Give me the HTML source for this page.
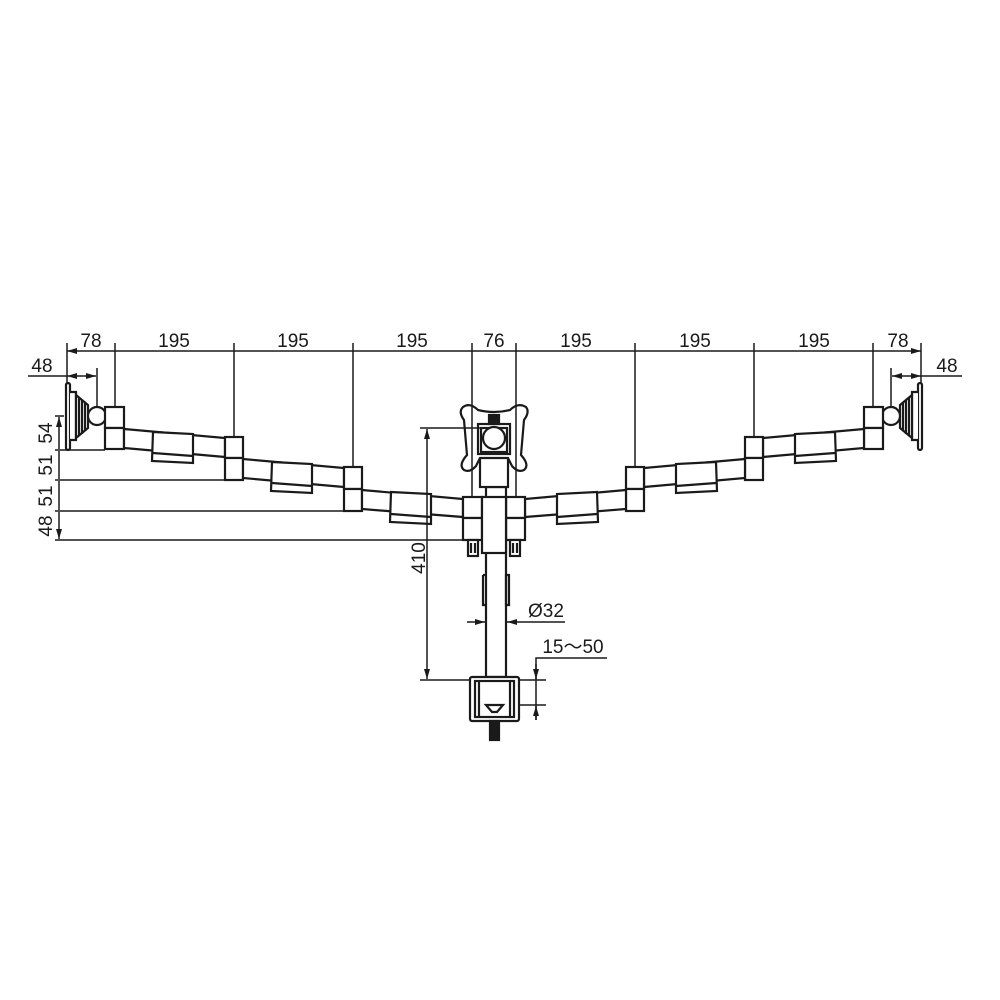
<!DOCTYPE html>
<html><head><meta charset="utf-8"><style>
html,body{margin:0;padding:0;background:#fff}
svg{display:block}
text{font-family:"Liberation Sans",sans-serif;font-size:19px;fill:#1a1a1a}
</style></head><body>
<svg width="1000" height="1000" viewBox="0 0 1000 1000" xmlns="http://www.w3.org/2000/svg">
<defs>
<marker id="a" viewBox="0 0 10 6" refX="10" refY="3" markerWidth="7" markerHeight="4" orient="auto-start-reverse"><path d="M0,0 L10,3 L0,6 z" fill="#1a1a1a"/></marker>
<g id="arm" fill="#fff" stroke="#1a1a1a" stroke-width="2.2">
  <rect x="66" y="383" width="4" height="67" rx="2"/>
  <path d="M70,392 L76,392 L76,440 L70,440" />
  <path d="M76,395 L88,405 L88,428 L76,438 Z" fill="#fff"/>
  <line x1="79" y1="398" x2="79" y2="436"/><line x1="82" y1="400" x2="82" y2="434"/><line x1="85" y1="402" x2="85" y2="431"/>
  <circle cx="97" cy="416" r="9"/>
  <rect x="105" y="407" width="19" height="21"/>
  <rect x="105" y="428" width="19" height="21"/>
  <path d="M124,429 L225,438 L225,457 L124,448 Z"/>
  <path d="M153,432 L193,434 L193,463 L152,461 Z"/>
  <line x1="153" y1="453" x2="193" y2="456"/>
  <rect x="225" y="437" width="18" height="21"/>
  <rect x="225" y="458" width="18" height="22"/>
  <path d="M243,459 L344,468 L344,487 L243,478 Z"/>
  <path d="M272,462 L312,464 L312,493 L271,491 Z"/>
  <line x1="272" y1="483" x2="312" y2="486"/>
  <rect x="344" y="467" width="18" height="22"/>
  <rect x="344" y="489" width="18" height="22"/>
  <path d="M362,490 L463,499 L463,517 L362,509 Z"/>
  <path d="M391,492 L431,494 L431,524 L390,522 Z"/>
  <line x1="391" y1="514" x2="431" y2="517"/>
  <rect x="463" y="497" width="19" height="21"/>
  <rect x="463" y="518" width="19" height="22"/>
  <rect x="468" y="540" width="10" height="16"/>
  <line x1="471" y1="543" x2="471" y2="553"/><line x1="475" y1="543" x2="475" y2="553"/>
</g>
</defs>
<use href="#arm"/>
<use href="#arm" transform="translate(988,0) scale(-1,1)"/>
<g fill="#fff" stroke="#1a1a1a" stroke-width="2.2">
  <rect x="486" y="487" width="20" height="190"/>
  <rect x="480" y="450" width="28" height="37"/>
  <rect x="482" y="497" width="24" height="56"/>
  <path d="M483,575 L486,575 M483,575 L483,605 L486,605 M509,575 L506,575 L506,605 L509,605 Z" fill="none"/>
  <path d="M463,407 Q470,402 478,410 Q494,414 510,410 Q518,402 526,407 Q530,412 524,420 L521,455 Q530,465 524,470 Q518,473 512,466 L508,458 L480,458 L476,466 Q470,473 464,470 Q458,465 467,455 L464,420 Q458,412 463,407 Z"/>
  <rect x="478" y="424" width="32" height="30"/>
  <rect x="481" y="428" width="26" height="24"/>
  <circle cx="494" cy="438" r="11"/>
  <rect x="489" y="415" width="10" height="9" fill="#1a1a1a"/>
  <rect x="470" y="677" width="49" height="44" rx="2"/>
  <rect x="475" y="681" width="39" height="36" fill="none"/>
  <line x1="479" y1="681" x2="479" y2="717"/><line x1="510" y1="681" x2="510" y2="717"/>
  <path d="M486,705 L503,705 L497,712 L492,712 Z"/>
  <rect x="490" y="721" width="9" height="19" fill="#1a1a1a"/>
</g>
<g stroke="#1a1a1a" stroke-width="1.5" fill="none">
  <path d="M67,351 L115,351 M115,351 L234,351 M234,351 L353,351 M353,351 L472,351 M472,351 L516,351 M516,351 L635,351 M635,351 L754,351 M754,351 L873,351 M873,351 L921,351" marker-start="url(#a)" marker-end="url(#a)"/>
  <line x1="67" y1="343" x2="67" y2="383"/><line x1="115" y1="343" x2="115" y2="406"/>
  <line x1="234" y1="343" x2="234" y2="436"/><line x1="353" y1="343" x2="353" y2="466"/>
  <line x1="472" y1="343" x2="472" y2="497"/><line x1="516" y1="343" x2="516" y2="497"/>
  <line x1="635" y1="343" x2="635" y2="466"/><line x1="754" y1="343" x2="754" y2="436"/>
  <line x1="873" y1="343" x2="873" y2="406"/><line x1="921" y1="343" x2="921" y2="383"/>
  <line x1="28" y1="376" x2="67" y2="376"/>
  <line x1="67" y1="376" x2="96" y2="376" marker-start="url(#a)" marker-end="url(#a)"/>
  <line x1="97" y1="368" x2="97" y2="406"/>
  <line x1="921" y1="376" x2="962" y2="376"/>
  <line x1="892" y1="376" x2="921" y2="376" marker-start="url(#a)" marker-end="url(#a)"/>
  <line x1="891" y1="368" x2="891" y2="406"/>
  <line x1="55" y1="416" x2="64" y2="416"/>
  <line x1="55" y1="450" x2="105" y2="450"/>
  <line x1="55" y1="480" x2="225" y2="480"/>
  <line x1="55" y1="511" x2="344" y2="511"/>
  <line x1="55" y1="540" x2="463" y2="540"/>
  <path d="M59,417 L59,449 M59,451 L59,479 M59,481 L59,510 M59,512 L59,539" marker-start="url(#a)" marker-end="url(#a)"/>
  <line x1="420" y1="428" x2="480" y2="428"/>
  <line x1="420" y1="680" x2="470" y2="680"/>
  <line x1="427" y1="429" x2="427" y2="679" marker-start="url(#a)" marker-end="url(#a)"/>
  <line x1="467" y1="622" x2="485" y2="622" marker-end="url(#a)"/>
  <line x1="507" y1="622" x2="565" y2="622" marker-start="url(#a)"/>
  <path d="M536,720 L536,658 L607,658"/>
  <line x1="519" y1="680" x2="546" y2="680"/>
  <line x1="519" y1="705" x2="546" y2="705"/>
  <line x1="536" y1="664" x2="536" y2="679" marker-end="url(#a)"/>
  <line x1="536" y1="706" x2="536" y2="720" marker-start="url(#a)"/>
</g>
<g text-anchor="middle">
  <text x="91" y="347">78</text>
  <text x="174" y="347">195</text>
  <text x="293" y="347">195</text>
  <text x="412" y="347">195</text>
  <text x="494" y="347">76</text>
  <text x="576" y="347">195</text>
  <text x="695" y="347">195</text>
  <text x="814" y="347">195</text>
  <text x="898" y="347">78</text>
  <text x="42" y="372">48</text>
  <text x="947" y="372">48</text>
  <text transform="translate(52,433) rotate(-90)">54</text>
  <text transform="translate(52,465) rotate(-90)">51</text>
  <text transform="translate(52,496) rotate(-90)">51</text>
  <text transform="translate(52,526) rotate(-90)">48</text>
  <text transform="translate(425,558) rotate(-90)">410</text>
  <text x="546" y="617">Ø32</text>
  <text x="573" y="653">15～50</text>
</g>
</svg>
</body></html>
